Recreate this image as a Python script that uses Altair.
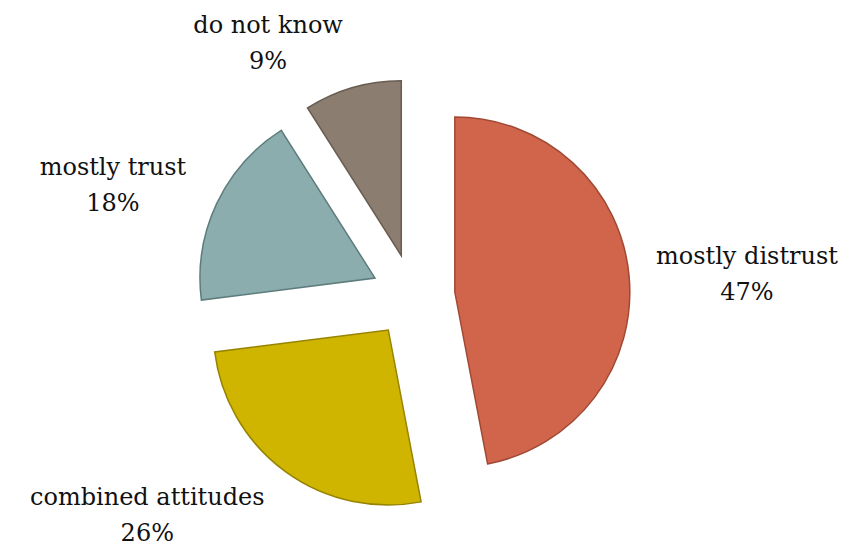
import altair as alt
import pandas as pd

categories = ["mostly distrust", "combined attitudes", "mostly trust", "do not know"]
values = [47, 26, 18, 9]
order = [1, 2, 3, 4]
fills = ["#D1654B", "#CFB400", "#8BADAD", "#8C7D71"]
strokes = ["#A04833", "#968300", "#5F7C7C", "#695C51"]

df = pd.DataFrame({"category": categories, "value": values, "order": order})

W, H = 832, 538
CX, CY = 405, 288
R = 175
EXPLODE = 42
GAP = 20
CHAR_W = 6.8
HALF_H = 30
LINE_H = 36
SHIFT_Y = 14
SHIFT_X = -4

base = alt.Chart(df).transform_window(
    cum="sum(value)", sort=[alt.SortField("order")], frame=[None, 0]
).transform_joinaggregate(total="sum(value)").transform_calculate(
    t0="2*PI*(datum.cum - datum.value)/datum.total",
    t1="2*PI*datum.cum/datum.total",
).transform_calculate(
    mid="(datum.t0 + datum.t1)/2"
).transform_calculate(
    cx=f"{CX} + {EXPLODE}*sin(datum.mid)",
    cy=f"{CY} - {EXPLODE}*cos(datum.mid)",
    lx=f"{CX} + {SHIFT_X} + {R + EXPLODE + GAP}*sin(datum.mid) + (sin(datum.mid) >= 0 ? 1 : -1)*length(datum.category)*{CHAR_W}",
    ly=f"{CY} - {R + EXPLODE + GAP}*cos(datum.mid) - {HALF_H}*cos(datum.mid) - {SHIFT_Y}",
    lab="[datum.category, datum.value + '%']",
)

arcs = base.mark_arc(radius=R, strokeWidth=1.5).encode(
    x=alt.X("cx:Q", scale=None),
    y=alt.Y("cy:Q", scale=None),
    theta=alt.Theta("t0:Q", scale=None),
    theta2="t1:Q",
    fill=alt.Fill("category:N", scale=alt.Scale(domain=categories, range=fills), legend=None),
    stroke=alt.Stroke("category:N", scale=alt.Scale(domain=categories, range=strokes), legend=None),
)

labels = base.mark_text(
    font="DejaVu Serif", fontSize=24, lineHeight=LINE_H, align="center", baseline="middle", color="#111111"
).encode(
    x=alt.X("lx:Q", scale=None),
    y=alt.Y("ly:Q", scale=None),
    text=alt.Text("lab:N"),
)

chart = alt.layer(arcs, labels).properties(
    width=W, height=H, padding=0, autosize=alt.AutoSizeParams(type="none")
).configure_view(stroke=None)

chart.save("out.html", embed_options={"renderer": "svg", "actions": False})
